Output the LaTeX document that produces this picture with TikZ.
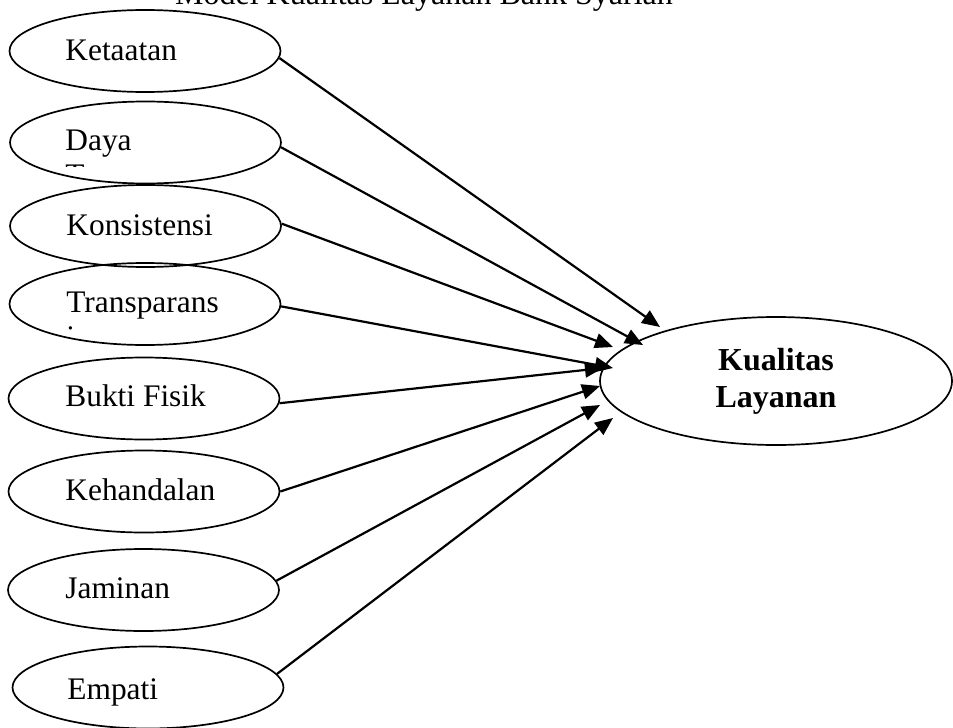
\documentclass[tikz,border=0pt]{standalone}
\usepackage{fontspec}
\setmainfont{Liberation Serif}
\usetikzlibrary{shapes.geometric, arrows.meta}

\begin{document}
\begin{tikzpicture}[
        x=0.5pt, y=-0.5pt,
        dimensi/.style={
            draw, ellipse, line width=0.85pt,
            minimum width=135.5pt, minimum height=41pt, inner sep=0pt,
          },
        dimlabel/.style={
            anchor=base west, inner sep=0pt,
            font=\fontsize{15.7}{18.5}\selectfont,
          },
        panah/.style={-{Triangle[length=9pt, width=7.5pt]}, line width=1.1pt},
        ]
        \useasboundingbox (0,0) rectangle (953,728);
        \clip (0,0) rectangle (953,728);

        \node[anchor=base, inner sep=0pt, font=\fontsize{16}{18.5}\selectfont] (judul) at (424,4) {Model Kualitas Layanan Bank Syariah};

        \node[dimensi] (ket) at (145,51) {};
        \node[dimensi] (daya) at (145.5,142.5) {};
        \node[dimensi] (kons) at (145.5,226) {};
        \node[dimensi] (trans) at (145,304) {};
        \node[dimensi] (bukti) at (144,398.5) {};
        \node[dimensi] (keh) at (144,491.5) {};
        \node[dimensi] (jam) at (143.5,590) {};
        \node[dimensi] (emp) at (148,687.5) {};

        \node[dimlabel] (ketL) at (65,61) {Ketaatan};
        \node[dimlabel] (dayaL) at (65,150) {Daya};
        \node[dimlabel] (konsL) at (66,235) {Konsistensi};
        \node[dimlabel] (transL) at (66,312) {Transparans};
        \node[dimlabel] (buktiL) at (65,406) {Bukti Fisik};
        \node[dimlabel] (kehL) at (65,500) {Kehandalan};
        \node[dimlabel] (jamL) at (65,598) {Jaminan};
        \node[dimlabel] (empL) at (67,699) {Empati};

        \begin{scope}
            \clip (60,160) rectangle (100,166.5);
            \node[dimlabel] (dayaL2) at (65,185) {Tanggap};
        \end{scope}
        \begin{scope}
            \clip (60,322) rectangle (80,329);
            \node[dimlabel] (transL2) at (66,347) {i};
        \end{scope}

        \node[draw, ellipse, line width=0.85pt, minimum width=176pt, minimum height=64pt,
            align=center, font=\fontsize{16}{18.5}\selectfont\bfseries] (kual) at (776,381) {Kualitas\\Layanan};

        \coordinate (tKet) at (660,327);
        \coordinate (tDaya) at (643,345);
        \coordinate (tKons) at (613,347);
        \coordinate (tTrans) at (613,368);
        \coordinate (tBukti) at (603,368);
        \coordinate (tKeh) at (600,386);
        \coordinate (tJam) at (600,405);
        \coordinate (tEmp) at (613,418);

        \draw[panah] (ket.-3) -- (tKet);
        \draw[panah] (daya.-2) -- (tDaya);
        \draw[panah] (kons.1) -- (tKons);
        \draw[panah] (trans.-1) -- (tTrans);
        \draw[panah] (bukti.-2) -- (tBukti);
        \draw[panah] (keh.east) -- (tKeh);
        \draw[panah] (jam.4) -- (tJam);
        \draw[panah] (emp.6) -- (tEmp);
    \end{tikzpicture}
\end{document}
